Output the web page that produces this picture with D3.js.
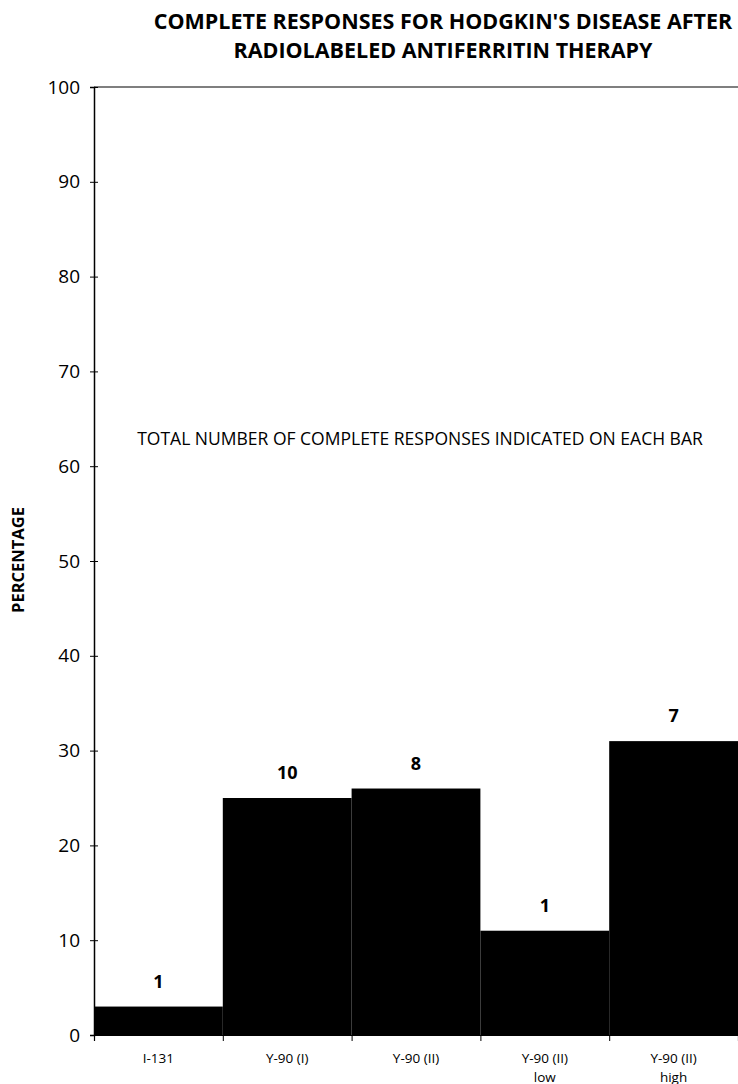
<!DOCTYPE html>
<html><head><meta charset="utf-8">
<script src="https://cdn.jsdelivr.net/npm/d3@7"></script>
<style>
html,body{margin:0;padding:0;background:#fff;}
svg{display:block;}
</style></head>
<body>
<svg id="chart" width="738" height="1084"></svg>
<script>
const categories = ["I-131", "Y-90 (I)", "Y-90 (II)", "Y-90 (II)\nlow", "Y-90 (II)\nhigh"];
const percentages = [3, 25, 26, 11, 31];
const responseCounts = [1, 10, 8, 1, 7];
const yTicks = [0, 10, 20, 30, 40, 50, 60, 70, 80, 90, 100];
const titleLines = ["COMPLETE RESPONSES FOR HODGKIN'S DISEASE AFTER", "RADIOLABELED ANTIFERRITIN THERAPY"];
const note = "TOTAL NUMBER OF COMPLETE RESPONSES INDICATED ON EACH BAR";
const yLabel = "PERCENTAGE";

const svg = d3.select("#chart");
const m = {left: 94, right: 0, top: 87, bottom: 49};
const W = 738, H = 1084;

const x = d3.scaleBand().domain(d3.range(categories.length)).range([m.left, W - m.right]).padding(0);
const y = d3.scaleLinear().domain([0, 100]).range([H - m.bottom, m.top]);

const font = "'Open Sans', 'Noto Sans', sans-serif";

// title
svg.append("g").selectAll("text").data(titleLines).join("text")
  .attr("x", 443).attr("y", (d, i) => 29 + i * 29)
  .attr("text-anchor", "middle")
  .attr("font-family", font).attr("font-weight", 700).attr("font-size", 21.5)
  .text(d => d);

// bars
svg.append("g").selectAll("rect").data(percentages).join("rect")
  .attr("x", (d, i) => x(i)).attr("width", x.bandwidth())
  .attr("y", d => y(d)).attr("height", d => y(0) - y(d))
  .attr("fill", "#000");

// top frame line
svg.append("line").attr("x1", m.left).attr("x2", W).attr("y1", y(100)).attr("y2", y(100))
  .attr("stroke", "#000").attr("stroke-width", 1.2);

// y axis
const yAxis = d3.axisLeft(y).tickValues(yTicks).tickSize(4).tickPadding(10);
const gy = svg.append("g").attr("transform", `translate(${m.left},0)`).call(yAxis);
gy.select(".domain").attr("stroke-width", 1.5);
gy.selectAll(".tick line").attr("x2", 4).attr("x1", -4);
gy.selectAll(".tick text").attr("font-family", font).attr("font-size", 19).attr("fill", "#000");

// x axis
const xAxis = d3.axisBottom(d3.scaleLinear().domain([0, categories.length]).range([m.left, W]))
  .tickValues(d3.range(categories.length)).tickSize(6).tickFormat("");
const gx = svg.append("g").attr("transform", `translate(0,${y(0)})`).call(xAxis);
gx.select(".domain").attr("stroke-width", 1.2);

// x labels
const xl = svg.append("g").selectAll("text").data(categories).join("text")
  .attr("x", (d, i) => x(i) + x.bandwidth() / 2)
  .attr("y", y(0) + 28)
  .attr("text-anchor", "middle")
  .attr("font-family", font).attr("font-size", 13.5);
xl.each(function(d) {
  const lines = d.split("\n");
  d3.select(this).selectAll("tspan").data(lines).join("tspan")
    .attr("x", d3.select(this).attr("x"))
    .attr("dy", (l, j) => j === 0 ? 0 : 18.5)
    .text(l => l);
});

// count labels
svg.append("g").selectAll("text").data(responseCounts).join("text")
  .attr("x", (d, i) => x(i) + x.bandwidth() / 2)
  .attr("y", (d, i) => y(percentages[i]) - 19)
  .attr("text-anchor", "middle")
  .attr("font-family", font).attr("font-weight", 700).attr("font-size", 18)
  .text(d => d);

// note
svg.append("text").attr("x", 420).attr("y", 445)
  .attr("text-anchor", "middle")
  .attr("font-family", font).attr("font-size", 17.5)
  .text(note);

// y label
svg.append("text").attr("transform", `translate(24,560) rotate(-90)`)
  .attr("text-anchor", "middle")
  .attr("font-family", font).attr("font-weight", 700).attr("font-size", 16.5)
  .text(yLabel);
</script>
</body></html>
